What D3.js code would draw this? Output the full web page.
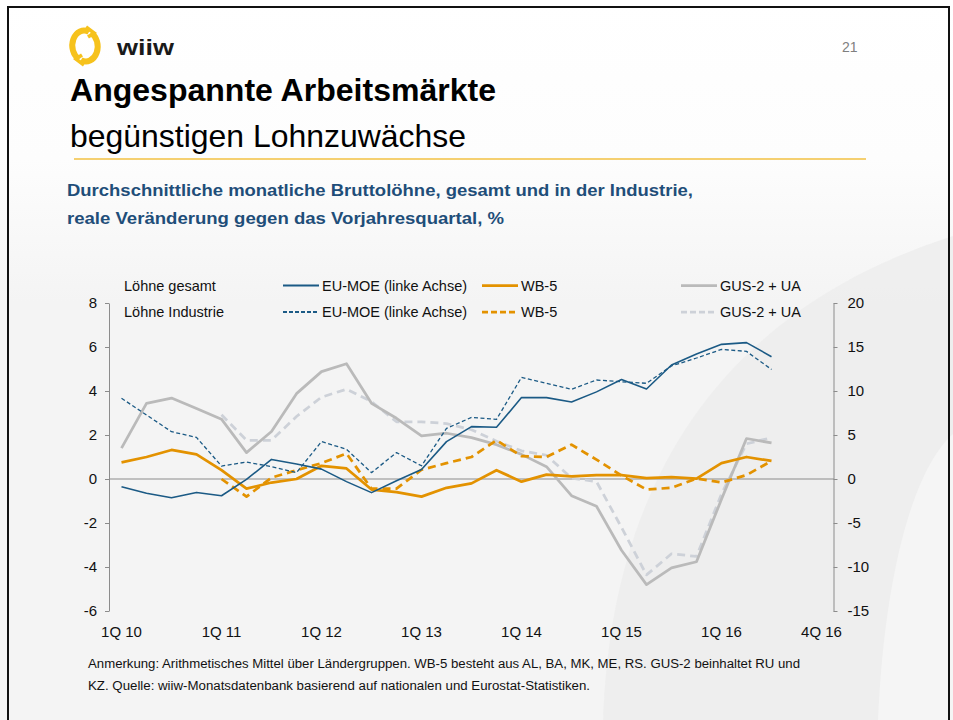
<!DOCTYPE html>
<html>
<head>
<meta charset="utf-8">
<script src="https://cdn.jsdelivr.net/npm/d3@7"></script>
<style>
  html, body { margin: 0; padding: 0; background: #ffffff; }
  svg { display: block; }
  text { font-family: "Liberation Sans", Arial, sans-serif; }
</style>
</head>
<body>
<svg id="chart" width="953" height="720"></svg>
<script>
// ---------- DATA ----------
const quarters = ["1Q 10","2Q 10","3Q 10","4Q 10","1Q 11","2Q 11","3Q 11","4Q 11",
  "1Q 12","2Q 12","3Q 12","4Q 12","1Q 13","2Q 13","3Q 13","4Q 13",
  "1Q 14","2Q 14","3Q 14","4Q 14","1Q 15","2Q 15","3Q 15","4Q 15",
  "1Q 16","2Q 16","3Q 16","4Q 16","1Q 17"];
const tickIndex  = [0, 4, 8, 12, 16, 20, 24, 28];
const tickLabels = ["1Q 10","1Q 11","1Q 12","1Q 13","1Q 14","1Q 15","1Q 16","4Q 16"];
const leftTicks  = [-6, -4, -2, 0, 2, 4, 6, 8];
const rightTicks = [-15, -10, -5, 0, 5, 10, 15, 20];

// EU-MOE (left axis)
const euTotal = [-0.35,-0.65,-0.85,-0.61,-0.76,-0.02,0.89,0.68,0.45,-0.12,-0.62,-0.08,0.43,
  1.70,2.38,2.35,3.70,3.70,3.50,3.96,4.52,4.09,5.18,5.68,6.12,6.20,5.56];
const euIndustry = [3.67,2.91,2.15,1.89,0.59,0.77,0.56,0.29,1.70,1.35,0.29,1.20,0.60,
  2.30,2.80,2.71,4.62,4.35,4.08,4.50,4.42,4.35,5.14,5.50,5.89,5.80,4.98];
// WB-5 (right axis)
const wbTotal = [1.9,2.5,3.3,2.8,1.0,-1.1,-0.4,0.0,1.5,1.2,-1.2,-1.5,-2.0,
  -1.0,-0.5,1.0,-0.3,0.5,0.3,0.45,0.45,0.1,0.2,0.05,1.8,2.5,2.05];
const wbIndustry = [null,null,null,null,0.0,-2.0,0.15,1.0,1.8,2.9,-1.1,-1.1,1.05,
  1.8,2.5,4.4,2.6,2.5,3.9,2.2,0.4,-1.2,-1.0,0.05,-0.4,0.45,2.05];
// GUS-2 + UA (right axis)
const gusTotal = [3.5,8.6,9.2,8.0,6.8,3.0,5.4,9.7,12.2,13.1,8.6,6.9,4.9,
  5.2,4.7,3.9,2.8,1.4,-1.9,-3.1,-8.1,-12.0,-10.1,-9.4,-2.3,4.6,4.1];
const gusIndustry = [null,null,null,null,7.3,4.4,4.4,7.1,9.3,10.2,8.8,6.5,6.5,
  6.3,5.6,4.3,3.2,2.7,0.1,-0.3,-5.5,-10.9,-8.5,-8.8,-1.7,4.0,4.7];

// ---------- DRAW ----------
const svg = d3.select("#chart");
const defs = svg.append("defs");
const grad = defs.append("linearGradient").attr("id","bg").attr("x1",0).attr("y1",0).attr("x2",0).attr("y2",1);
grad.append("stop").attr("offset","0").attr("stop-color","#ffffff");
grad.append("stop").attr("offset","0.22").attr("stop-color","#fdfdfd");
grad.append("stop").attr("offset","0.42").attr("stop-color","#f4f4f4");
grad.append("stop").attr("offset","1").attr("stop-color","#f4f4f4");

svg.append("rect").attr("x",0).attr("y",0).attr("width",953).attr("height",720).attr("fill","url(#bg)");
// decorative swoosh
svg.append("path").attr("d","M603,720 C610,520 690,320 953,236 L953,720 Z").attr("fill","#ececec").attr("opacity",0.75);
svg.append("path").attr("d","M878,720 C884,580 912,470 953,434 L953,720 Z").attr("fill","#f5f5f5");

// slide border
svg.append("rect").attr("x",8).attr("y",7).attr("width",941).attr("height",730)
  .attr("fill","none").attr("stroke","#111").attr("stroke-width",2);

// logo
const logo = svg.append("g").attr("fill","none").attr("stroke","#f6c21c").attr("stroke-width",6).attr("stroke-linecap","butt");
logo.append("path").attr("d","M89,32 A11,14 0 0 0 79,59");
logo.append("path").attr("d","M81,60 A11,14 0 0 0 91,33");
logo.append("path").attr("d","M86,27 L94,33 L88,37").attr("stroke-width",3.5);
logo.append("path").attr("d","M84,65 L76,59 L82,55").attr("stroke-width",3.5);
svg.append("text").attr("x",117).attr("y",55).attr("font-size",22).attr("font-weight","bold")
  .attr("fill","#1a1a1a").attr("textLength",57).attr("lengthAdjust","spacingAndGlyphs").text("wiiw");
svg.append("text").attr("x",842).attr("y",52).attr("font-size",14).attr("fill","#7f7f7f").text("21");

// titles
svg.append("text").attr("x",70).attr("y",101).attr("font-size",32).attr("font-weight","bold")
  .attr("fill","#000").attr("textLength",426).attr("lengthAdjust","spacingAndGlyphs").text("Angespannte Arbeitsmärkte");
svg.append("text").attr("x",70).attr("y",147).attr("font-size",32)
  .attr("fill","#000").attr("textLength",396).attr("lengthAdjust","spacingAndGlyphs").text("begünstigen Lohnzuwächse");
svg.append("line").attr("x1",74).attr("x2",866).attr("y1",159).attr("y2",159)
  .attr("stroke","#f2c042").attr("stroke-width",1.5);

svg.append("text").attr("x",67).attr("y",196).attr("font-size",16).attr("font-weight","bold")
  .attr("fill","#1f4e79").attr("textLength",626).attr("lengthAdjust","spacingAndGlyphs")
  .text("Durchschnittliche monatliche Bruttolöhne, gesamt und in der Industrie,");
svg.append("text").attr("x",67).attr("y",224).attr("font-size",16).attr("font-weight","bold")
  .attr("fill","#1f4e79").attr("textLength",437).attr("lengthAdjust","spacingAndGlyphs")
  .text("reale Veränderung gegen das Vorjahresquartal, %");

// scales
const x = d3.scaleBand().domain(d3.range(quarters.length)).range([109, 834]);
const xp = i => x(i) + x.bandwidth() / 2;
const yL = d3.scaleLinear().domain([-6, 8]).range([611, 303]);
const yR = d3.scaleLinear().domain([-15, 20]).range([611, 303]);
const axisColor = "#8c8c8c";
const fmt = d => String(d);

// axes
const gL = svg.append("g").attr("transform","translate(109,0)")
  .call(d3.axisLeft(yL).tickValues(leftTicks).tickFormat(fmt).tickSize(4).tickSizeOuter(0).tickPadding(8));
const gR = svg.append("g").attr("transform","translate(833.5,0)")
  .call(d3.axisRight(yR).tickValues(rightTicks).tickFormat(fmt).tickSize(4).tickSizeOuter(0).tickPadding(10));
[gL, gR].forEach(g => {
  g.select(".domain").attr("stroke", axisColor);
  g.selectAll(".tick line").attr("stroke", axisColor);
  g.selectAll(".tick text").attr("fill","#111").attr("font-size",15)
   .attr("font-family","'Liberation Sans', Arial, sans-serif");
});
const gX = svg.append("g").attr("transform","translate(0,611)")
  .call(d3.axisBottom(x).tickValues(tickIndex).tickFormat(d => tickLabels[tickIndex.indexOf(d)]).tickSize(0).tickPadding(15));
gX.select(".domain").remove();
gX.selectAll(".tick text").attr("fill","#111").attr("font-size",15)
  .attr("font-family","'Liberation Sans', Arial, sans-serif");

// zero line
svg.append("line").attr("x1",109).attr("x2",834).attr("y1",yL(0)).attr("y2",yL(0))
  .attr("stroke",axisColor).attr("stroke-width",1);

// series
const series = [
  {data: gusIndustry, scale: yR, color: "#cdd1d8", width: 2.75, dash: "8,5"},
  {data: gusTotal,    scale: yR, color: "#bababa", width: 2.75, dash: null},
  {data: wbIndustry,  scale: yR, color: "#e39200", width: 2.75, dash: "8,5"},
  {data: wbTotal,     scale: yR, color: "#e39200", width: 2.75, dash: null},
  {data: euIndustry,  scale: yL, color: "#1b5a85", width: 1.3, dash: "4,2.5"},
  {data: euTotal,     scale: yL, color: "#1b5a85", width: 1.6, dash: null}
];
series.forEach(s => {
  const line = d3.line().defined(d => d != null).x((d, i) => xp(i)).y(d => s.scale(d));
  svg.append("path").datum(s.data).attr("d", line).attr("fill","none")
    .attr("stroke", s.color).attr("stroke-width", s.width)
    .attr("stroke-dasharray", s.dash).attr("stroke-linejoin","round");
});

// legend
const legRows = [
  {label: "Löhne gesamt", y: 285.5, dash: null},
  {label: "Löhne Industrie", y: 312, dash: "ind"}
];
const legItems = [
  {name: "EU-MOE (linke Achse)", x: 283, color: "#1b5a85", w: 2.2, dash: "4,2"},
  {name: "WB-5", x: 482, color: "#e39200", w: 2.75, dash: "6,3"},
  {name: "GUS-2 + UA", x: 681, color: "#bababa", w: 2.75, dash: "6,3", dcolor: "#cdd1d8"}
];
legRows.forEach(r => {
  svg.append("text").attr("x",124).attr("y",r.y + 5).attr("font-size",14.5).attr("fill","#111").text(r.label);
  legItems.forEach(it => {
    svg.append("line").attr("x1",it.x).attr("x2",it.x + 36).attr("y1",r.y).attr("y2",r.y)
      .attr("stroke", r.dash && it.dcolor ? it.dcolor : it.color).attr("stroke-width",it.w)
      .attr("stroke-dasharray", r.dash ? it.dash : null);
    svg.append("text").attr("x",it.x + 39).attr("y",r.y + 5).attr("font-size",14.5).attr("fill","#111").text(it.name);
  });
});

// footnote
svg.append("text").attr("x",88).attr("y",668).attr("font-size",12).attr("fill","#111")
  .attr("textLength",712).attr("lengthAdjust","spacingAndGlyphs")
  .text("Anmerkung: Arithmetisches Mittel über Ländergruppen. WB-5 besteht aus AL, BA, MK, ME, RS. GUS-2 beinhaltet RU und");
svg.append("text").attr("x",88).attr("y",690).attr("font-size",12).attr("fill","#111")
  .attr("textLength",502).attr("lengthAdjust","spacingAndGlyphs")
  .text("KZ. Quelle: wiiw-Monatsdatenbank basierend auf nationalen und Eurostat-Statistiken.");
</script>
</body>
</html>
